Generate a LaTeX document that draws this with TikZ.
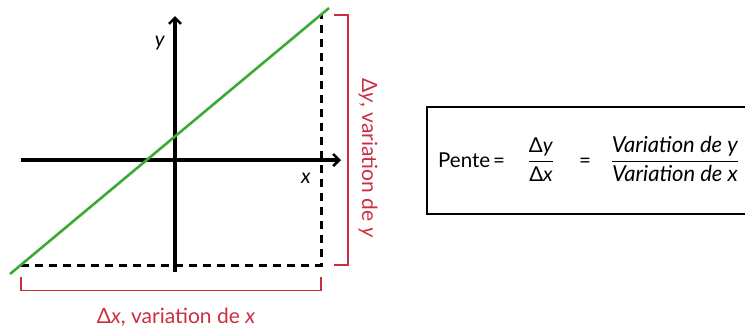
\documentclass[tikz,border=0pt]{standalone}
\usepackage{amsmath}
\usepackage{fontspec}
\setmainfont{Lato}
\usetikzlibrary{arrows.meta}
\definecolor{lgreen}{RGB}{60,170,55}
\definecolor{lred}{RGB}{205,45,65}
\tikzset{
  axis/.style={line width=3.2pt,-{Straight Barb[length=6pt,width=12pt,line width=2.6pt]}},
  dashline/.style={line width=3pt,dash pattern=on 8pt off 6pt},
  brace/.style={lred,line width=1.5pt},
  lbl/.style={font=\fontsize{20.5}{24}\selectfont,inner sep=0pt},
  redlbl/.style={font=\fontsize{21}{25}\selectfont,inner sep=0pt,text=lred}
}
\begin{document}
\begin{tikzpicture}[x=1pt,y=-1pt]
\useasboundingbox (0,0) rectangle (745,327);
\clip (0,0) rectangle (745,327);
% coordinates
\coordinate (xa) at (21,160);
\coordinate (xb) at (341,160);
\coordinate (ya) at (175,272);
\coordinate (yb) at (175,16);
\coordinate (g1) at (10,274);
\coordinate (g2) at (329,8);
\coordinate (dl) at (21,265);
\coordinate (dc) at (321,265);
\coordinate (dt) at (321,15);
% axes
\draw[axis] (xa) -- (xb);
\draw[axis] (ya) -- (yb);
% dashed
\draw[dashline] (dl) -- (dc) -- (dt);
% green line
\draw[lgreen,line width=2.6pt] (g1) -- (g2);
% axis labels
\node[lbl] (ylab) at (160,43) {\textit{y}};
\node[lbl] (xlab) at (306,178) {\textit{x}};
% red brackets
\coordinate (br1) at (334,15);
\coordinate (br2) at (348,15);
\coordinate (br3) at (348,265);
\coordinate (br4) at (334,265);
\draw[brace] (br1) -- (br2) -- (br3) -- (br4);
\coordinate (bb1) at (21,277);
\coordinate (bb2) at (21,290.5);
\coordinate (bb3) at (321,290.5);
\coordinate (bb4) at (321,277);
\draw[brace] (bb1) -- (bb2) -- (bb3) -- (bb4);
\node[redlbl,anchor=base] (dxlab) at (176,323) {Δ\textit{x}, variation de \textit{x}};
\node[redlbl,rotate=-90,anchor=base] (dylab) at (362,158) {Δ\textit{y}, variation de \textit{y}};
% formula box
\node[draw,line width=2.4pt,minimum width=340pt,minimum height=107pt,anchor=north west] (box) at (426,106) {};
\node[lbl,anchor=base west] (pente) at (438,167) {Pente};
\node[lbl,anchor=base] (eq1) at (499,167) {=};
\node[lbl,anchor=base] (frac1) at (541,167) {$\dfrac{\text{Δ\textit{y}}}{\text{Δ\textit{x}}}$};
\node[lbl,anchor=base] (eq2) at (585,167) {=};
\node[lbl,anchor=base,font=\fontsize{22}{26}\selectfont] (frac2) at (675,167) {$\dfrac{\text{\textit{Variation de y}}}{\text{\textit{Variation de x}}}$};
\end{tikzpicture}
\end{document}
